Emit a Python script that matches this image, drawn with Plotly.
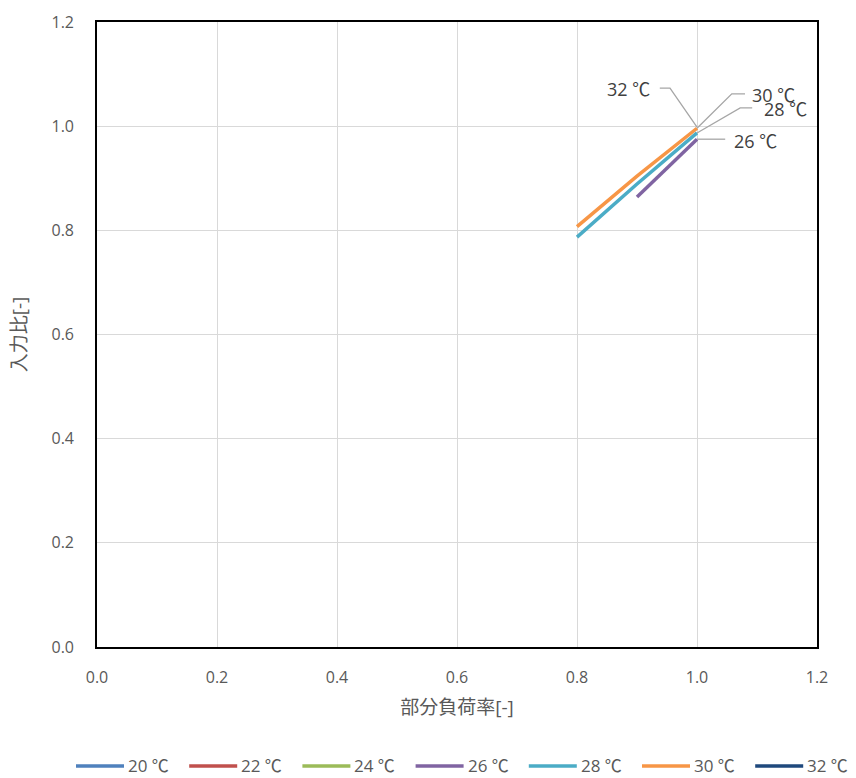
import plotly.graph_objects as go

series_names = ["20 ℃", "22 ℃", "24 ℃", "26 ℃", "28 ℃", "30 ℃", "32 ℃"]
series_colors = ["#4F81BD", "#C0504D", "#9BBB59", "#8064A2", "#4BACC6", "#F79646", "#1F497D"]
x_vals = {
    "20 ℃": [None], "22 ℃": [None], "24 ℃": [None],
    "26 ℃": [0.9, 1.0],
    "28 ℃": [0.8, 0.9, 1.0],
    "30 ℃": [0.8, 0.9, 1.0],
    "32 ℃": [1.0],
}
y_vals = {
    "20 ℃": [None], "22 ℃": [None], "24 ℃": [None],
    "26 ℃": [0.864, 0.975],
    "28 ℃": [0.787, 0.889, 0.987],
    "30 ℃": [0.807, 0.904, 0.996],
    "32 ℃": [0.998],
}
tick_vals = [0.0, 0.2, 0.4, 0.6, 0.8, 1.0, 1.2]
tick_text = ["0.0", "0.2", "0.4", "0.6", "0.8", "1.0", "1.2"]

FONT = "Open Sans, Noto Sans CJK JP, sans-serif"
GRAY = "#595959"

W, H = 856, 778
ML, MR, MT, MB = 97, 39, 22, 131
PW, PH = W - ML - MR, H - MT - MB

fig = go.Figure()
for name, col in zip(series_names, series_colors):
    fig.add_trace(go.Scatter(x=x_vals[name], y=y_vals[name], mode="lines", name=name,
                             line=dict(color=col, width=3.5), showlegend=False))

# data labels with leader lines: (series, label pos, leader elbow points)
labels = [
    ("32 ℃", (0.885, 1.071), [(0.955, 1.073), (0.938, 1.073)]),
    ("30 ℃", (1.127, 1.060), [(1.058, 1.062), (1.08, 1.062)]),
    ("28 ℃", (1.148, 1.033), [(1.072, 1.035), (1.092, 1.035)]),
    ("26 ℃", (1.098, 0.972), [(1.047, 0.975)]),
]
for name, (lx, ly), pts in labels:
    px, py = x_vals[name][-1], y_vals[name][-1]
    path = f"M {px},{py} " + " ".join(f"L {a},{b}" for a, b in pts)
    fig.add_shape(type="path", path=path, xref="x", yref="y",
                  line=dict(color="#A6A6A6", width=1.3))
    fig.add_annotation(x=lx, y=ly, text=name, showarrow=False, xref="x", yref="y",
                       font=dict(size=18, color="#404040", family=FONT))

# legend drawn manually (one row spanning full width, like the reference)
def px2paper_x(p):
    return (p - ML) / PW

def px2paper_y(p):
    return (H - MB - p) / PH

leg_y = px2paper_y(766)
for i, (name, col) in enumerate(zip(series_names, series_colors)):
    x0 = 76 + i * 113.2
    fig.add_shape(type="line", xref="paper", yref="paper",
                  x0=px2paper_x(x0), x1=px2paper_x(x0 + 48), y0=leg_y, y1=leg_y,
                  line=dict(color=col, width=3.5))
    fig.add_annotation(x=px2paper_x(x0 + 51), y=leg_y, xref="paper", yref="paper",
                       xanchor="left", yanchor="middle", text=name, showarrow=False,
                       borderpad=0,
                       font=dict(size=17, color=GRAY, family=FONT))

axis_common = dict(range=[0, 1.2], tickvals=tick_vals, ticktext=tick_text,
                   showgrid=True, gridcolor="#D9D9D9", gridwidth=1.3,
                   showline=True, linecolor="black", linewidth=1.6, mirror=True,
                   zeroline=False, ticks="",
                   tickfont=dict(size=16, color=GRAY, family=FONT))

fig.update_xaxes(**axis_common, ticklabelstandoff=15,
                 title=dict(text="部分負荷率[-]", standoff=14,
                            font=dict(size=19, color=GRAY, family=FONT)))
fig.update_yaxes(**axis_common, ticklabelstandoff=18,
                 title=dict(text="入力比[-]", standoff=20,
                            font=dict(size=19, color=GRAY, family=FONT)))

fig.update_layout(
    width=W, height=H,
    margin=dict(l=ML, r=MR, t=MT, b=MB, autoexpand=False),
    paper_bgcolor="white", plot_bgcolor="white",
    font=dict(family=FONT, color=GRAY),
    showlegend=False,
)

fig.write_html("out.html")
